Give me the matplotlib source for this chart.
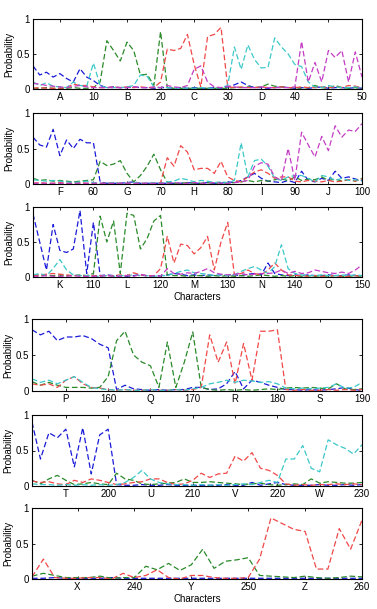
import numpy as np # Arrays for the x positions.
import matplotlib # Plotting library.
matplotlib.use("Agg") # No display, draw to a file.
import matplotlib.pyplot as plt # Plotting interface.

# Probability of each letter class over the characters shown in its panel.
# Panel 1: characters 1-50
prob_A = [0.33, 0.20, 0.24, 0.17, 0.22, 0.15, 0.10, 0.29, 0.17, 0.12,
          0.05, 0.02, 0.03, 0.02, 0.02, 0.03, 0.02, 0.02, 0.01, 0.02,
          0.02, 0.01, 0.02, 0.01, 0.02, 0.01, 0.01, 0.02, 0.01, 0.03,
          0.06, 0.10, 0.05, 0.02, 0.02, 0.01, 0.02, 0.03, 0.02, 0.01,
          0.02, 0.01, 0.02, 0.03, 0.01, 0.02, 0.02, 0.01, 0.02, 0.01]
prob_B = [0.01, 0.01, 0.02, 0.01, 0.01, 0.01, 0.02, 0.01, 0.01, 0.02,
          0.10, 0.69, 0.55, 0.40, 0.67, 0.55, 0.20, 0.21, 0.05, 0.82,
          0.02, 0.01, 0.01, 0.01, 0.01, 0.01, 0.01, 0.01, 0.01, 0.01,
          0.02, 0.02, 0.03, 0.02, 0.03, 0.07, 0.04, 0.03, 0.02, 0.02,
          0.01, 0.02, 0.05, 0.02, 0.01, 0.05, 0.02, 0.01, 0.02, 0.01]
prob_C = [0.01, 0.02, 0.01, 0.01, 0.01, 0.02, 0.07, 0.05, 0.05, 0.03,
          0.02, 0.02, 0.03, 0.02, 0.03, 0.02, 0.03, 0.02, 0.02, 0.10,
          0.57, 0.55, 0.58, 0.78, 0.35, 0.03, 0.75, 0.78, 0.88, 0.03,
          0.02, 0.03, 0.02, 0.02, 0.03, 0.02, 0.02, 0.03, 0.02, 0.02,
          0.03, 0.02, 0.02, 0.03, 0.02, 0.03, 0.02, 0.05, 0.04, 0.02]
prob_D = [0.10, 0.05, 0.09, 0.04, 0.03, 0.02, 0.10, 0.05, 0.04, 0.37,
          0.05, 0.02, 0.02, 0.02, 0.03, 0.05, 0.20, 0.18, 0.03, 0.02,
          0.02, 0.01, 0.01, 0.01, 0.01, 0.02, 0.01, 0.01, 0.02, 0.05,
          0.60, 0.28, 0.63, 0.42, 0.30, 0.31, 0.73, 0.60, 0.50, 0.35,
          0.32, 0.10, 0.03, 0.02, 0.05, 0.03, 0.02, 0.02, 0.03, 0.02]
prob_E = [0.08, 0.07, 0.05, 0.04, 0.03, 0.02, 0.04, 0.05, 0.03, 0.02,
          0.02, 0.02, 0.02, 0.02, 0.02, 0.03, 0.02, 0.02, 0.03, 0.02,
          0.05, 0.03, 0.02, 0.05, 0.28, 0.33, 0.10, 0.03, 0.02, 0.04,
          0.03, 0.02, 0.02, 0.02, 0.03, 0.02, 0.02, 0.02, 0.02, 0.03,
          0.68, 0.10, 0.38, 0.10, 0.55, 0.45, 0.55, 0.10, 0.53, 0.17]

# Panel 2: characters 51-100
prob_F = [0.66, 0.55, 0.52, 0.77, 0.40, 0.62, 0.50, 0.63, 0.58, 0.58,
          0.03, 0.01, 0.01, 0.01, 0.02, 0.03, 0.01, 0.01, 0.01, 0.01,
          0.01, 0.01, 0.01, 0.02, 0.01, 0.01, 0.02, 0.01, 0.01, 0.03,
          0.02, 0.05, 0.10, 0.15, 0.08, 0.04, 0.03, 0.02, 0.05, 0.02,
          0.18, 0.05, 0.03, 0.08, 0.05, 0.18, 0.08, 0.10, 0.07, 0.05]
prob_G = [0.08, 0.05, 0.06, 0.04, 0.05, 0.04, 0.03, 0.04, 0.05, 0.06,
          0.32, 0.26, 0.28, 0.33, 0.15, 0.03, 0.12, 0.25, 0.42, 0.20,
          0.02, 0.01, 0.01, 0.02, 0.01, 0.01, 0.02, 0.01, 0.02, 0.01,
          0.02, 0.03, 0.05, 0.03, 0.05, 0.04, 0.06, 0.07, 0.05, 0.10,
          0.05, 0.07, 0.06, 0.10, 0.05, 0.07, 0.04, 0.06, 0.04, 0.08]
prob_H = [0.01, 0.02, 0.01, 0.01, 0.02, 0.01, 0.01, 0.02, 0.01, 0.01,
          0.01, 0.01, 0.02, 0.01, 0.01, 0.02, 0.01, 0.01, 0.01, 0.02,
          0.37, 0.25, 0.54, 0.45, 0.20, 0.22, 0.22, 0.15, 0.32, 0.10,
          0.05, 0.03, 0.10, 0.17, 0.20, 0.15, 0.08, 0.10, 0.10, 0.04,
          0.03, 0.05, 0.04, 0.03, 0.05, 0.03, 0.04, 0.06, 0.04, 0.07]
prob_I = [0.06, 0.05, 0.04, 0.05, 0.04, 0.03, 0.02, 0.03, 0.04, 0.02,
          0.01, 0.01, 0.02, 0.01, 0.01, 0.02, 0.01, 0.01, 0.02, 0.01,
          0.03, 0.04, 0.08, 0.06, 0.03, 0.05, 0.04, 0.02, 0.03, 0.02,
          0.05, 0.58, 0.10, 0.33, 0.35, 0.25, 0.08, 0.05, 0.10, 0.12,
          0.12, 0.08, 0.03, 0.12, 0.10, 0.05, 0.08, 0.05, 0.06, 0.04]
prob_J = [0.01, 0.01, 0.01, 0.01, 0.01, 0.01, 0.01, 0.01, 0.01, 0.01,
          0.01, 0.01, 0.01, 0.01, 0.01, 0.01, 0.01, 0.01, 0.01, 0.01,
          0.01, 0.02, 0.01, 0.01, 0.02, 0.01, 0.01, 0.02, 0.01, 0.01,
          0.02, 0.03, 0.05, 0.25, 0.30, 0.28, 0.10, 0.05, 0.50, 0.05,
          0.73, 0.55, 0.38, 0.67, 0.47, 0.82, 0.66, 0.76, 0.74, 0.85]

# Panel 3: characters 101-150
prob_K = [0.90, 0.50, 0.10, 0.75, 0.38, 0.35, 0.40, 0.95, 0.05, 0.78,
          0.02, 0.03, 0.02, 0.02, 0.01, 0.02, 0.03, 0.02, 0.01, 0.02,
          0.03, 0.05, 0.04, 0.02, 0.03, 0.02, 0.03, 0.02, 0.03, 0.02,
          0.03, 0.02, 0.04, 0.05, 0.03, 0.20, 0.05, 0.03, 0.02, 0.03,
          0.02, 0.03, 0.02, 0.02, 0.03, 0.02, 0.02, 0.03, 0.02, 0.02]
prob_L = [0.02, 0.03, 0.02, 0.02, 0.03, 0.02, 0.02, 0.03, 0.02, 0.05,
          0.87, 0.50, 0.80, 0.05, 0.91, 0.88, 0.40, 0.55, 0.80, 0.88,
          0.03, 0.02, 0.02, 0.01, 0.02, 0.02, 0.01, 0.02, 0.01, 0.02,
          0.01, 0.02, 0.01, 0.02, 0.03, 0.02, 0.01, 0.02, 0.01, 0.02,
          0.01, 0.02, 0.01, 0.02, 0.01, 0.02, 0.01, 0.01, 0.02, 0.01]
prob_M = [0.02, 0.03, 0.04, 0.05, 0.04, 0.03, 0.02, 0.02, 0.01, 0.02,
          0.02, 0.02, 0.02, 0.03, 0.02, 0.06, 0.03, 0.02, 0.02, 0.12,
          0.58, 0.20, 0.47, 0.45, 0.33, 0.42, 0.58, 0.10, 0.50, 0.78,
          0.03, 0.05, 0.10, 0.05, 0.03, 0.10, 0.20, 0.10, 0.03, 0.02,
          0.02, 0.01, 0.02, 0.01, 0.02, 0.02, 0.01, 0.01, 0.02, 0.01]
prob_N = [0.03, 0.05, 0.02, 0.12, 0.25, 0.10, 0.03, 0.02, 0.02, 0.01,
          0.01, 0.02, 0.01, 0.02, 0.02, 0.03, 0.02, 0.02, 0.01, 0.02,
          0.02, 0.05, 0.08, 0.10, 0.06, 0.05, 0.04, 0.02, 0.03, 0.02,
          0.03, 0.08, 0.12, 0.15, 0.10, 0.05, 0.15, 0.46, 0.12, 0.05,
          0.03, 0.02, 0.02, 0.03, 0.02, 0.02, 0.03, 0.02, 0.03, 0.02]
prob_O = [0.01, 0.01, 0.02, 0.01, 0.01, 0.01, 0.02, 0.01, 0.01, 0.01,
          0.01, 0.02, 0.01, 0.01, 0.02, 0.01, 0.04, 0.01, 0.02, 0.01,
          0.12, 0.05, 0.04, 0.06, 0.05, 0.08, 0.12, 0.06, 0.04, 0.03,
          0.04, 0.05, 0.03, 0.04, 0.05, 0.05, 0.06, 0.10, 0.05, 0.08,
          0.05, 0.06, 0.10, 0.08, 0.06, 0.05, 0.07, 0.05, 0.10, 0.17]

# Panel 4: characters 151-190
prob_P = [0.85, 0.78, 0.83, 0.70, 0.75, 0.75, 0.77, 0.73, 0.65, 0.60,
          0.02, 0.08, 0.03, 0.02, 0.01, 0.02, 0.01, 0.02, 0.02, 0.05,
          0.05, 0.02, 0.03, 0.10, 0.27, 0.03, 0.15, 0.12, 0.08, 0.05,
          0.02, 0.02, 0.01, 0.02, 0.01, 0.02, 0.03, 0.05, 0.02, 0.01]
prob_Q = [0.13, 0.08, 0.12, 0.08, 0.05, 0.05, 0.05, 0.04, 0.05, 0.20,
          0.70, 0.83, 0.50, 0.40, 0.35, 0.05, 0.68, 0.05, 0.40, 0.82,
          0.05, 0.02, 0.01, 0.02, 0.01, 0.02, 0.01, 0.02, 0.03, 0.02,
          0.04, 0.05, 0.04, 0.05, 0.04, 0.03, 0.10, 0.03, 0.02, 0.03]
prob_R = [0.10, 0.08, 0.10, 0.05, 0.15, 0.20, 0.10, 0.05, 0.04, 0.02,
          0.01, 0.02, 0.01, 0.01, 0.02, 0.01, 0.01, 0.02, 0.01, 0.02,
          0.05, 0.78, 0.40, 0.68, 0.10, 0.66, 0.15, 0.83, 0.83, 0.85,
          0.02, 0.01, 0.02, 0.01, 0.01, 0.02, 0.01, 0.02, 0.01, 0.02]
prob_S = [0.17, 0.12, 0.15, 0.10, 0.15, 0.20, 0.12, 0.05, 0.03, 0.02,
          0.01, 0.02, 0.01, 0.01, 0.02, 0.01, 0.01, 0.02, 0.01, 0.03,
          0.05, 0.10, 0.12, 0.15, 0.12, 0.15, 0.14, 0.12, 0.13, 0.10,
          0.04, 0.03, 0.04, 0.03, 0.04, 0.05, 0.10, 0.04, 0.05, 0.12]

# Panel 5: characters 191-230
prob_T = [0.90, 0.38, 0.75, 0.68, 0.80, 0.27, 0.82, 0.17, 0.72, 0.80,
          0.02, 0.01, 0.01, 0.02, 0.01, 0.01, 0.02, 0.01, 0.01, 0.01,
          0.01, 0.01, 0.01, 0.02, 0.01, 0.01, 0.05, 0.01, 0.03, 0.05,
          0.02, 0.01, 0.01, 0.01, 0.02, 0.01, 0.01, 0.02, 0.01, 0.02]
prob_U = [0.08, 0.03, 0.10, 0.15, 0.08, 0.02, 0.03, 0.05, 0.03, 0.02,
          0.18, 0.10, 0.08, 0.03, 0.02, 0.03, 0.04, 0.05, 0.10, 0.05,
          0.05, 0.06, 0.05, 0.04, 0.03, 0.02, 0.03, 0.04, 0.02, 0.01,
          0.02, 0.03, 0.02, 0.10, 0.04, 0.06, 0.05, 0.04, 0.04, 0.05]
prob_V = [0.07, 0.05, 0.06, 0.03, 0.02, 0.08, 0.05, 0.10, 0.08, 0.05,
          0.02, 0.03, 0.05, 0.06, 0.10, 0.10, 0.05, 0.02, 0.03, 0.08,
          0.18, 0.12, 0.17, 0.18, 0.42, 0.35, 0.47, 0.25, 0.22, 0.15,
          0.03, 0.01, 0.02, 0.01, 0.02, 0.02, 0.03, 0.02, 0.03, 0.02]
prob_W = [0.03, 0.02, 0.02, 0.01, 0.02, 0.01, 0.02, 0.01, 0.02, 0.01,
          0.02, 0.05, 0.12, 0.22, 0.10, 0.05, 0.03, 0.02, 0.02, 0.01,
          0.02, 0.01, 0.02, 0.01, 0.02, 0.03, 0.02, 0.05, 0.08, 0.05,
          0.38, 0.38, 0.57, 0.25, 0.20, 0.65, 0.58, 0.53, 0.45, 0.58]

# Panel 6: characters 231-260
prob_X = [0.01, 0.01, 0.02, 0.01, 0.01, 0.01, 0.01, 0.02, 0.01, 0.01,
          0.01, 0.01, 0.01, 0.01, 0.01, 0.01, 0.01, 0.01, 0.01, 0.01,
          0.01, 0.01, 0.01, 0.01, 0.01, 0.01, 0.01, 0.01, 0.01, 0.01]
prob_Y = [0.04, 0.08, 0.05, 0.02, 0.02, 0.02, 0.04, 0.01, 0.02, 0.02,
          0.18, 0.13, 0.22, 0.12, 0.20, 0.42, 0.15, 0.25, 0.27, 0.30,
          0.05, 0.04, 0.03, 0.02, 0.04, 0.02, 0.01, 0.02, 0.04, 0.03]
prob_Z = [0.03, 0.28, 0.02, 0.01, 0.01, 0.02, 0.02, 0.00, 0.08, 0.02,
          0.05, 0.13, 0.02, 0.00, 0.05, 0.05, 0.02, 0.01, 0.01, 0.02,
          0.28, 0.86, 0.78, 0.70, 0.67, 0.14, 0.14, 0.71, 0.42, 0.83]

# Character ranges and letter labels for each panel.
panel_ranges = [(1, 50), (51, 100), (101, 150), (151, 190), (191, 230), (231, 260)]
panel_letters = [["A", "B", "C", "D", "E"], ["F", "G", "H", "I", "J"],
                 ["K", "L", "M", "N", "O"], ["P", "Q", "R", "S"],
                 ["T", "U", "V", "W"], ["X", "Y", "Z"]]
panel_series = [[prob_A, prob_B, prob_C, prob_D, prob_E],
                [prob_F, prob_G, prob_H, prob_I, prob_J],
                [prob_K, prob_L, prob_M, prob_N, prob_O],
                [prob_P, prob_Q, prob_R, prob_S],
                [prob_T, prob_U, prob_V, prob_W],
                [prob_X, prob_Y, prob_Z]]

colors = ["#1a1ad8", "#2a8a2a", "#f04848", "#3cc8c8", "#c43cc4"] # Blue, green, red, cyan, magenta.

plt.rcParams["font.family"] = ["Liberation Sans", "DejaVu Sans"]
plt.rcParams["font.size"] = 7

fig = plt.figure(figsize=(3.77, 6.09), dpi=100) # 377x609 pixels.
W, H = 377.0, 609.0
# Axes boxes in pixels: left, top, right, bottom.
boxes = [(33, 19, 362, 89), (33, 113, 362, 184), (33, 207, 362, 277),
         (32, 319, 362, 391), (32, 415, 362, 486), (32, 508, 362, 579)]

for i in range(6):
    l, t, r, b = boxes[i]
    ax = fig.add_axes([l / W, 1 - b / H, (r - l) / W, (b - t) / H])
    start, end = panel_ranges[i]
    x = np.arange(start, end + 1)
    for j, series in enumerate(panel_series[i]): # One dashed line per letter class.
        ax.plot(x, series, color=colors[j], linestyle=(0, (4.5, 2.2)), linewidth=0.9)
    ax.set_xlim(start, end)
    ax.set_ylim(0, 1)
    # Ticks every 5 characters: letters at the centres, numbers at multiples of 10.
    ticks = np.arange(start + 4, end + 1, 5)
    labels = []
    k = 0
    for tk in ticks:
        if tk % 10 == 0:
            labels.append(str(tk))
        else:
            labels.append(panel_letters[i][k])
            k += 1
    ax.set_xticks(ticks)
    ax.set_xticklabels(labels)
    ax.set_yticks([0, 0.5, 1])
    ax.set_yticklabels(["0", "0.5", "1"])
    ax.tick_params(direction="in", top=True, right=True, length=2.5, width=0.6, pad=2.5)
    for s in ax.spines.values():
        s.set_linewidth(0.8)
    ax.set_ylabel("Probability")
    ax.yaxis.set_label_coords(-0.058, 0.5)
    if i == 2 or i == 5:
        ax.set_xlabel("Characters", labelpad=1)

fig.savefig("out.png", dpi=100)
